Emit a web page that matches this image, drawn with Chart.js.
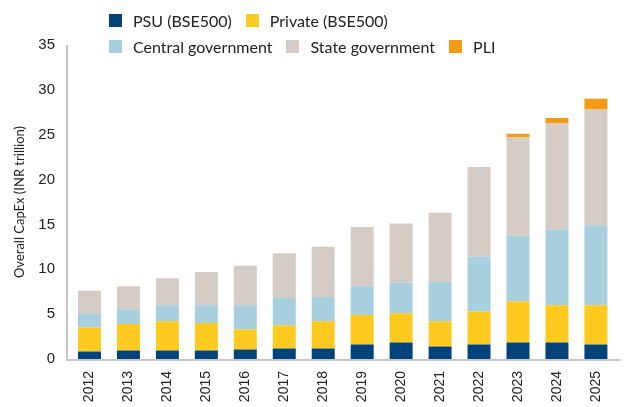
<!DOCTYPE html>
<html>
<head>
<meta charset="utf-8">
<script src="https://cdn.jsdelivr.net/npm/chart.js@4/dist/chart.umd.min.js"></script>
<style>
  html, body { margin: 0; padding: 0; background: #fff; }
  #wrap { position: relative; width: 625px; height: 407px; }
  #legend { position: absolute; left: 109px; top: 7px; font-family: Lato, "Open Sans", sans-serif; font-size: 16px; color: #222; }
  .row { display: flex; align-items: center; height: 26px; }
  .item { display: flex; align-items: center; margin-right: 14px; }
  .sw { width: 13px; height: 13px; margin-right: 11px; }
</style>
</head>
<body>
<div id="wrap">
  <canvas id="capexChart" width="625" height="407"></canvas>
  <div id="legend"></div>
</div>
<script>
// Data (INR trillion)
const years = ["2012","2013","2014","2015","2016","2017","2018","2019","2020","2021","2022","2023","2024","2025"];
const psu     = [0.84,0.95,0.95,0.95,1.07,1.18,1.18,1.63,1.85,1.4,1.63,1.85,1.85,1.63];
const priv    = [2.66,2.95,3.25,3.05,2.23,2.57,3.02,3.27,3.25,2.8,3.67,4.6,4.15,4.37];
const central = [1.6,1.65,1.8,2.0,2.7,3.05,2.7,3.2,3.4,4.4,6.1,7.3,8.4,8.9];
const state   = [2.5,2.55,3.0,3.7,4.4,5.0,5.6,6.6,6.6,7.7,10.0,10.95,11.9,12.9];
const pli     = [null,null,null,null,null,null,null,null,null,null,null,0.4,0.55,1.2];
const yTicks  = [0,5,10,15,20,25,30,35];

const seriesNames  = ["PSU (BSE500)","Private (BSE500)","Central government","State government","PLI"];
const seriesData   = [psu, priv, central, state, pli];
const seriesColors = ["#00427a","#ffca1f","#a8cfdd","#d4ccc5","#f49b15"];

// legend rows like the original: 2 items, then 3 items
const legendRows = [[0,1],[2,3,4]];
const legendEl = document.getElementById("legend");
legendRows.forEach(r => {
  const row = document.createElement("div");
  row.className = "row";
  r.forEach(i => {
    const it = document.createElement("div");
    it.className = "item";
    it.innerHTML = '<span class="sw" style="background:' + seriesColors[i] + '"></span><span>' + seriesNames[i] + '</span>';
    row.appendChild(it);
  });
  legendEl.appendChild(row);
});

// axis lines sit a little outside the plot area in the original
const axisLines = {
  id: "axisLines",
  afterDatasetsDraw(chart) {
    const { ctx, chartArea } = chart;
    ctx.save();
    ctx.strokeStyle = "#c3c7cb";
    ctx.lineWidth = 2;
    ctx.beginPath();
    ctx.moveTo(chartArea.left - 3, chartArea.top);
    ctx.lineTo(chartArea.left - 3, chartArea.bottom + 2);
    ctx.moveTo(chartArea.left - 4, chartArea.bottom + 1);
    ctx.lineTo(chartArea.right + 5, chartArea.bottom + 1);
    ctx.stroke();
    ctx.restore();
  }
};

new Chart(document.getElementById("capexChart").getContext("2d"), {
  type: "bar",
  data: {
    labels: years,
    datasets: seriesNames.map((n, i) => ({
      label: n,
      data: seriesData[i],
      backgroundColor: seriesColors[i],
      borderWidth: 0,
      categoryPercentage: 1,
      barPercentage: 0.59
    }))
  },
  options: {
    responsive: false,
    animation: false,
    layout: { padding: { top: 45, right: 8, left: 0, bottom: 0 } },
    plugins: { legend: { display: false }, tooltip: { enabled: false } },
    scales: {
      x: {
        stacked: true,
        grid: { display: false, drawTicks: false },
        border: { display: false },
        ticks: {
          color: "#222",
          font: { family: "Liberation Sans", size: 14 },
          minRotation: 90, maxRotation: 90,
          padding: 12
        },
        afterFit: s => { s.height = 48; }
      },
      y: {
        stacked: true,
        min: 0, max: 35,
        grid: { display: false, drawTicks: false },
        border: { display: false },
        afterBuildTicks: s => { s.ticks = yTicks.map(v => ({ value: v })); },
        ticks: {
          color: "#222",
          font: { family: "Liberation Sans", size: 15 },
          padding: 15
        },
        title: {
          display: true,
          text: "Overall CapEx (INR trillion)",
          color: "#222",
          font: { family: "Lato", size: 13 },
          padding: { top: 12, bottom: 0 }
        },
        afterFit: s => { s.width = 70; }
      }
    }
  },
  plugins: [axisLines]
});
</script>
</body>
</html>
